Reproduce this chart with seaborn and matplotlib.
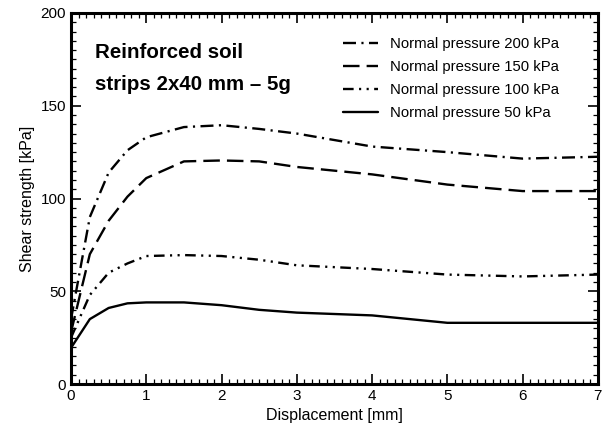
import numpy as np
import pandas as pd
import matplotlib
matplotlib.use("Agg")
import matplotlib.pyplot as plt
import seaborn as sns
from matplotlib.ticker import MultipleLocator

disp = [0.0, 0.25, 0.5, 0.75, 1.0, 1.5, 2.0, 2.5, 3.0, 4.0, 5.0, 6.0, 7.0]
p200 = [35, 90, 114, 126, 133, 138.5, 139.5, 137.5, 135, 128, 125, 121.5, 122.5]
p150 = [28, 70, 88, 101, 111, 120, 120.5, 120, 117, 113, 107.5, 104, 104]
p100 = [25, 48, 60, 65, 69, 69.5, 69, 67, 64, 62, 59, 58, 59]
p50 = [19.5, 35, 41, 43.5, 44, 44, 42.5, 40, 38.5, 37, 33, 33, 33]
labels = ["Normal pressure 200 kPa", "Normal pressure 150 kPa",
          "Normal pressure 100 kPa", "Normal pressure 50 kPa"]
series = [p200, p150, p100, p50]

rows = []
for lab, vals in zip(labels, series):
    for x, y in zip(disp, vals):
        rows.append({"Displacement": x, "Shear": y, "Series": lab})
df = pd.DataFrame(rows)

sns.set_style("ticks")
plt.rcParams["font.family"] = ["Liberation Sans", "DejaVu Sans"]
plt.rcParams["text.color"] = "black"
plt.rcParams["axes.labelcolor"] = "black"
plt.rcParams["xtick.color"] = "black"
plt.rcParams["ytick.color"] = "black"
plt.rcParams["axes.edgecolor"] = "black"

fig = plt.figure(figsize=(6.07, 4.32), dpi=100)
ax = fig.add_axes([0.117, 0.111, 0.868, 0.859])

dashes = {
    labels[0]: (5.5, 2.3, 0.9, 2.3),
    labels[1]: (7, 3),
    labels[2]: (4.5, 2.3, 0.9, 2.3, 0.9, 2.3),
    labels[3]: "",
}
sns.lineplot(data=df, x="Displacement", y="Shear", style="Series",
             style_order=labels, dashes=dashes, color="black",
             linewidth=1.7, ax=ax)

ax.set_xlim(0, 7)
ax.set_ylim(0, 200)
ax.xaxis.set_major_locator(MultipleLocator(1))
ax.xaxis.set_minor_locator(MultipleLocator(0.1))
ax.yaxis.set_major_locator(MultipleLocator(50))
ax.yaxis.set_minor_locator(MultipleLocator(5))
ax.tick_params(which="both", direction="in", top=True, right=True, labelsize=11, colors="black")
ax.tick_params(which="major", length=7, width=1.2)
ax.tick_params(which="minor", length=3.5, width=0.9)
for s in ax.spines.values():
    s.set_linewidth(2.2)
    s.set_visible(True)
    s.set_color("black")
ax.set_xlabel("Displacement [mm]", fontsize=11.5)
ax.set_ylabel("Shear strength [kPa]", fontsize=11.5)

ax.text(0.046, 0.894, "Reinforced soil", transform=ax.transAxes,
        fontsize=14.8, fontweight="bold", va="center")
ax.text(0.046, 0.808, "strips 2x40 mm \u2013 5g", transform=ax.transAxes,
        fontsize=14.8, fontweight="bold", va="center")

leg = ax.legend(loc="upper left", frameon=False, fontsize=10.7,
                handlelength=2.4, handletextpad=0.8, labelspacing=0.6,
                bbox_to_anchor=(0.49, 0.97), title=None)

fig.savefig("out.png", dpi=100)
